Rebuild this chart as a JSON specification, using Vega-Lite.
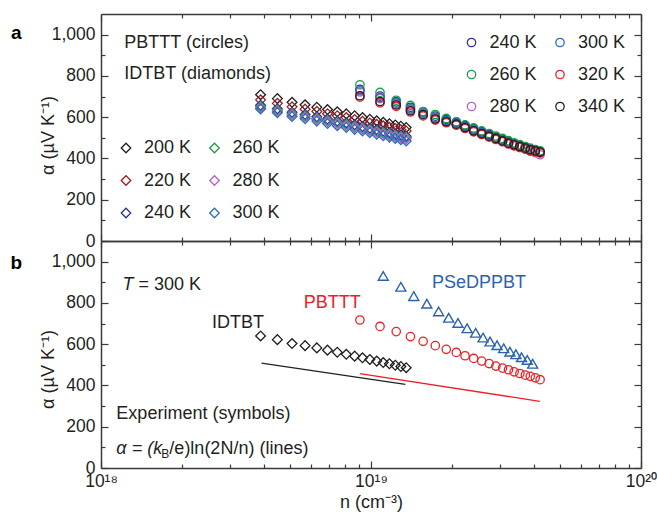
{
  "$schema": "https://vega.github.io/schema/vega-lite/v6.json",
  "padding": {"left": 10, "top": 13, "right": 5, "bottom": 4},
  "spacing": 0,
  "bounds": "flush",
  "config": {
    "font": "Liberation Sans",
    "view": {"stroke": null},
    "axis": {
      "grid": false,
      "domainColor": "#3a3a3a",
      "domainWidth": 1.5,
      "tickColor": "#3a3a3a",
      "tickWidth": 1.2,
      "labelColor": "#231f20",
      "labelFont": "Liberation Sans",
      "labelFontSize": 17.5,
      "titleColor": "#231f20",
      "titleFont": "Liberation Sans",
      "titleFontSize": 18,
      "titleFontWeight": "normal",
      "labelOverlap": false,
      "labelFlush": false,
      "minExtent": 0
    },
    "legend": {
      "labelFont": "Liberation Sans",
      "labelFontSize": 18,
      "labelColor": "#231f20",
      "padding": 0
    },
    "text": {"font": "Liberation Sans", "fontSize": 18}
  },
  "datasets": {
    "idtbt_a": [
      {"n": 3.9e18, "alpha": 709, "T": "200 K"}, {"n": 4.5e18, "alpha": 690, "T": "200 K"}, {"n": 5.1e18, "alpha": 672, "T": "200 K"}, {"n": 5.7e18, "alpha": 660, "T": "200 K"}, {"n": 6.3e18, "alpha": 648, "T": "200 K"}, {"n": 6.9e18, "alpha": 637, "T": "200 K"}, {"n": 7.5e18, "alpha": 626, "T": "200 K"}, {"n": 8.1e18, "alpha": 616, "T": "200 K"}, {"n": 8.7e18, "alpha": 607, "T": "200 K"}, {"n": 9.3e18, "alpha": 598, "T": "200 K"}, {"n": 9.9e18, "alpha": 590, "T": "200 K"}, {"n": 1.05e19, "alpha": 582, "T": "200 K"}, {"n": 1.11e19, "alpha": 575, "T": "200 K"}, {"n": 1.17e19, "alpha": 568, "T": "200 K"}, {"n": 1.23e19, "alpha": 562, "T": "200 K"}, {"n": 1.29e19, "alpha": 556, "T": "200 K"}, {"n": 1.35e19, "alpha": 550, "T": "200 K"},
      {"n": 3.9e18, "alpha": 684, "T": "220 K"}, {"n": 4.5e18, "alpha": 667, "T": "220 K"}, {"n": 5.1e18, "alpha": 650, "T": "220 K"}, {"n": 5.7e18, "alpha": 639, "T": "220 K"}, {"n": 6.3e18, "alpha": 628, "T": "220 K"}, {"n": 6.9e18, "alpha": 617, "T": "220 K"}, {"n": 7.5e18, "alpha": 607, "T": "220 K"}, {"n": 8.1e18, "alpha": 598, "T": "220 K"}, {"n": 8.7e18, "alpha": 589, "T": "220 K"}, {"n": 9.3e18, "alpha": 580, "T": "220 K"}, {"n": 9.9e18, "alpha": 572, "T": "220 K"}, {"n": 1.05e19, "alpha": 565, "T": "220 K"}, {"n": 1.11e19, "alpha": 558, "T": "220 K"}, {"n": 1.17e19, "alpha": 551, "T": "220 K"}, {"n": 1.23e19, "alpha": 545, "T": "220 K"}, {"n": 1.29e19, "alpha": 539, "T": "220 K"}, {"n": 1.35e19, "alpha": 533, "T": "220 K"},
      {"n": 3.9e18, "alpha": 658, "T": "240 K"}, {"n": 4.5e18, "alpha": 641, "T": "240 K"}, {"n": 5.1e18, "alpha": 624, "T": "240 K"}, {"n": 5.7e18, "alpha": 613, "T": "240 K"}, {"n": 6.3e18, "alpha": 602, "T": "240 K"}, {"n": 6.9e18, "alpha": 591, "T": "240 K"}, {"n": 7.5e18, "alpha": 581, "T": "240 K"}, {"n": 8.1e18, "alpha": 572, "T": "240 K"}, {"n": 8.7e18, "alpha": 563, "T": "240 K"}, {"n": 9.3e18, "alpha": 555, "T": "240 K"}, {"n": 9.9e18, "alpha": 547, "T": "240 K"}, {"n": 1.05e19, "alpha": 540, "T": "240 K"}, {"n": 1.11e19, "alpha": 533, "T": "240 K"}, {"n": 1.17e19, "alpha": 526, "T": "240 K"}, {"n": 1.23e19, "alpha": 520, "T": "240 K"}, {"n": 1.29e19, "alpha": 514, "T": "240 K"}, {"n": 1.35e19, "alpha": 508, "T": "240 K"},
      {"n": 3.9e18, "alpha": 650, "T": "260 K"}, {"n": 4.5e18, "alpha": 633, "T": "260 K"}, {"n": 5.1e18, "alpha": 616, "T": "260 K"}, {"n": 5.7e18, "alpha": 605, "T": "260 K"}, {"n": 6.3e18, "alpha": 594, "T": "260 K"}, {"n": 6.9e18, "alpha": 583, "T": "260 K"}, {"n": 7.5e18, "alpha": 573, "T": "260 K"}, {"n": 8.1e18, "alpha": 564, "T": "260 K"}, {"n": 8.7e18, "alpha": 555, "T": "260 K"}, {"n": 9.3e18, "alpha": 547, "T": "260 K"}, {"n": 9.9e18, "alpha": 539, "T": "260 K"}, {"n": 1.05e19, "alpha": 532, "T": "260 K"}, {"n": 1.11e19, "alpha": 525, "T": "260 K"}, {"n": 1.17e19, "alpha": 518, "T": "260 K"}, {"n": 1.23e19, "alpha": 512, "T": "260 K"}, {"n": 1.29e19, "alpha": 506, "T": "260 K"}, {"n": 1.35e19, "alpha": 501, "T": "260 K"},
      {"n": 3.9e18, "alpha": 645, "T": "280 K"}, {"n": 4.5e18, "alpha": 628, "T": "280 K"}, {"n": 5.1e18, "alpha": 611, "T": "280 K"}, {"n": 5.7e18, "alpha": 600, "T": "280 K"}, {"n": 6.3e18, "alpha": 589, "T": "280 K"}, {"n": 6.9e18, "alpha": 578, "T": "280 K"}, {"n": 7.5e18, "alpha": 568, "T": "280 K"}, {"n": 8.1e18, "alpha": 559, "T": "280 K"}, {"n": 8.7e18, "alpha": 550, "T": "280 K"}, {"n": 9.3e18, "alpha": 542, "T": "280 K"}, {"n": 9.9e18, "alpha": 534, "T": "280 K"}, {"n": 1.05e19, "alpha": 527, "T": "280 K"}, {"n": 1.11e19, "alpha": 520, "T": "280 K"}, {"n": 1.17e19, "alpha": 513, "T": "280 K"}, {"n": 1.23e19, "alpha": 507, "T": "280 K"}, {"n": 1.29e19, "alpha": 501, "T": "280 K"}, {"n": 1.35e19, "alpha": 496, "T": "280 K"},
      {"n": 3.9e18, "alpha": 640, "T": "300 K"}, {"n": 4.5e18, "alpha": 622, "T": "300 K"}, {"n": 5.1e18, "alpha": 603, "T": "300 K"}, {"n": 5.7e18, "alpha": 592, "T": "300 K"}, {"n": 6.3e18, "alpha": 581, "T": "300 K"}, {"n": 6.9e18, "alpha": 569, "T": "300 K"}, {"n": 7.5e18, "alpha": 559, "T": "300 K"}, {"n": 8.1e18, "alpha": 550, "T": "300 K"}, {"n": 8.7e18, "alpha": 541, "T": "300 K"}, {"n": 9.3e18, "alpha": 533, "T": "300 K"}, {"n": 9.9e18, "alpha": 525, "T": "300 K"}, {"n": 1.05e19, "alpha": 517, "T": "300 K"}, {"n": 1.11e19, "alpha": 510, "T": "300 K"}, {"n": 1.17e19, "alpha": 503, "T": "300 K"}, {"n": 1.23e19, "alpha": 497, "T": "300 K"}, {"n": 1.29e19, "alpha": 491, "T": "300 K"}, {"n": 1.35e19, "alpha": 485, "T": "300 K"}
    ],
    "pbttt_a": [
      {"n": 9.1e18, "alpha": 735, "T": "240 K"}, {"n": 1.08e19, "alpha": 702, "T": "240 K"}, {"n": 1.24e19, "alpha": 674, "T": "240 K"}, {"n": 1.40e19, "alpha": 648, "T": "240 K"}, {"n": 1.56e19, "alpha": 626, "T": "240 K"}, {"n": 1.73e19, "alpha": 605, "T": "240 K"}, {"n": 1.90e19, "alpha": 589, "T": "240 K"}, {"n": 2.07e19, "alpha": 575, "T": "240 K"}, {"n": 2.23e19, "alpha": 559, "T": "240 K"}, {"n": 2.40e19, "alpha": 543, "T": "240 K"}, {"n": 2.57e19, "alpha": 529, "T": "240 K"}, {"n": 2.74e19, "alpha": 516, "T": "240 K"}, {"n": 2.90e19, "alpha": 503, "T": "240 K"}, {"n": 3.07e19, "alpha": 491, "T": "240 K"}, {"n": 3.23e19, "alpha": 480, "T": "240 K"}, {"n": 3.39e19, "alpha": 471, "T": "240 K"}, {"n": 3.56e19, "alpha": 462, "T": "240 K"}, {"n": 3.73e19, "alpha": 454, "T": "240 K"}, {"n": 3.89e19, "alpha": 446, "T": "240 K"}, {"n": 4.06e19, "alpha": 440, "T": "240 K"}, {"n": 4.23e19, "alpha": 433, "T": "240 K"},
      {"n": 9.1e18, "alpha": 757, "T": "260 K"}, {"n": 1.08e19, "alpha": 720, "T": "260 K"}, {"n": 1.24e19, "alpha": 682, "T": "260 K"}, {"n": 1.40e19, "alpha": 657, "T": "260 K"}, {"n": 1.56e19, "alpha": 627, "T": "260 K"}, {"n": 1.73e19, "alpha": 613, "T": "260 K"}, {"n": 1.90e19, "alpha": 594, "T": "260 K"}, {"n": 2.07e19, "alpha": 578, "T": "260 K"}, {"n": 2.23e19, "alpha": 563, "T": "260 K"}, {"n": 2.40e19, "alpha": 548, "T": "260 K"}, {"n": 2.57e19, "alpha": 534, "T": "260 K"}, {"n": 2.74e19, "alpha": 521, "T": "260 K"}, {"n": 2.90e19, "alpha": 509, "T": "260 K"}, {"n": 3.07e19, "alpha": 497, "T": "260 K"}, {"n": 3.23e19, "alpha": 486, "T": "260 K"}, {"n": 3.39e19, "alpha": 476, "T": "260 K"}, {"n": 3.56e19, "alpha": 467, "T": "260 K"}, {"n": 3.73e19, "alpha": 458, "T": "260 K"}, {"n": 3.89e19, "alpha": 450, "T": "260 K"}, {"n": 4.06e19, "alpha": 443, "T": "260 K"}, {"n": 4.23e19, "alpha": 437, "T": "260 K"},
      {"n": 9.1e18, "alpha": 722, "T": "280 K"}, {"n": 1.08e19, "alpha": 690, "T": "280 K"}, {"n": 1.24e19, "alpha": 663, "T": "280 K"}, {"n": 1.40e19, "alpha": 637, "T": "280 K"}, {"n": 1.56e19, "alpha": 616, "T": "280 K"}, {"n": 1.73e19, "alpha": 595, "T": "280 K"}, {"n": 1.90e19, "alpha": 580, "T": "280 K"}, {"n": 2.07e19, "alpha": 566, "T": "280 K"}, {"n": 2.23e19, "alpha": 550, "T": "280 K"}, {"n": 2.40e19, "alpha": 534, "T": "280 K"}, {"n": 2.57e19, "alpha": 520, "T": "280 K"}, {"n": 2.74e19, "alpha": 507, "T": "280 K"}, {"n": 2.90e19, "alpha": 495, "T": "280 K"}, {"n": 3.07e19, "alpha": 483, "T": "280 K"}, {"n": 3.23e19, "alpha": 472, "T": "280 K"}, {"n": 3.39e19, "alpha": 462, "T": "280 K"}, {"n": 3.56e19, "alpha": 453, "T": "280 K"}, {"n": 3.73e19, "alpha": 444, "T": "280 K"}, {"n": 3.89e19, "alpha": 435, "T": "280 K"}, {"n": 4.06e19, "alpha": 428, "T": "280 K"}, {"n": 4.23e19, "alpha": 418, "T": "280 K"},
      {"n": 9.1e18, "alpha": 728, "T": "300 K"}, {"n": 1.08e19, "alpha": 695, "T": "300 K"}, {"n": 1.24e19, "alpha": 668, "T": "300 K"}, {"n": 1.40e19, "alpha": 641, "T": "300 K"}, {"n": 1.56e19, "alpha": 620, "T": "300 K"}, {"n": 1.73e19, "alpha": 599, "T": "300 K"}, {"n": 1.90e19, "alpha": 584, "T": "300 K"}, {"n": 2.07e19, "alpha": 571, "T": "300 K"}, {"n": 2.23e19, "alpha": 555, "T": "300 K"}, {"n": 2.40e19, "alpha": 539, "T": "300 K"}, {"n": 2.57e19, "alpha": 525, "T": "300 K"}, {"n": 2.74e19, "alpha": 512, "T": "300 K"}, {"n": 2.90e19, "alpha": 500, "T": "300 K"}, {"n": 3.07e19, "alpha": 489, "T": "300 K"}, {"n": 3.23e19, "alpha": 478, "T": "300 K"}, {"n": 3.39e19, "alpha": 469, "T": "300 K"}, {"n": 3.56e19, "alpha": 460, "T": "300 K"}, {"n": 3.73e19, "alpha": 452, "T": "300 K"}, {"n": 3.89e19, "alpha": 444, "T": "300 K"}, {"n": 4.06e19, "alpha": 438, "T": "300 K"}, {"n": 4.23e19, "alpha": 431, "T": "300 K"},
      {"n": 9.1e18, "alpha": 697, "T": "320 K"}, {"n": 1.08e19, "alpha": 669, "T": "320 K"}, {"n": 1.24e19, "alpha": 652, "T": "320 K"}, {"n": 1.40e19, "alpha": 625, "T": "320 K"}, {"n": 1.56e19, "alpha": 606, "T": "320 K"}, {"n": 1.73e19, "alpha": 586, "T": "320 K"}, {"n": 1.90e19, "alpha": 573, "T": "320 K"}, {"n": 2.07e19, "alpha": 561, "T": "320 K"}, {"n": 2.23e19, "alpha": 545, "T": "320 K"}, {"n": 2.40e19, "alpha": 529, "T": "320 K"}, {"n": 2.57e19, "alpha": 516, "T": "320 K"}, {"n": 2.74e19, "alpha": 503, "T": "320 K"}, {"n": 2.90e19, "alpha": 492, "T": "320 K"}, {"n": 3.07e19, "alpha": 481, "T": "320 K"}, {"n": 3.23e19, "alpha": 470, "T": "320 K"}, {"n": 3.39e19, "alpha": 461, "T": "320 K"}, {"n": 3.56e19, "alpha": 453, "T": "320 K"}, {"n": 3.73e19, "alpha": 445, "T": "320 K"}, {"n": 3.89e19, "alpha": 437, "T": "320 K"}, {"n": 4.06e19, "alpha": 432, "T": "320 K"}, {"n": 4.23e19, "alpha": 426, "T": "320 K"},
      {"n": 9.1e18, "alpha": 704, "T": "340 K"}, {"n": 1.08e19, "alpha": 676, "T": "340 K"}, {"n": 1.24e19, "alpha": 659, "T": "340 K"}, {"n": 1.40e19, "alpha": 631, "T": "340 K"}, {"n": 1.56e19, "alpha": 612, "T": "340 K"}, {"n": 1.73e19, "alpha": 591, "T": "340 K"}, {"n": 1.90e19, "alpha": 578, "T": "340 K"}, {"n": 2.07e19, "alpha": 566, "T": "340 K"}, {"n": 2.23e19, "alpha": 550, "T": "340 K"}, {"n": 2.40e19, "alpha": 534, "T": "340 K"}, {"n": 2.57e19, "alpha": 521, "T": "340 K"}, {"n": 2.74e19, "alpha": 508, "T": "340 K"}, {"n": 2.90e19, "alpha": 497, "T": "340 K"}, {"n": 3.07e19, "alpha": 485, "T": "340 K"}, {"n": 3.23e19, "alpha": 474, "T": "340 K"}, {"n": 3.39e19, "alpha": 466, "T": "340 K"}, {"n": 3.56e19, "alpha": 458, "T": "340 K"}, {"n": 3.73e19, "alpha": 450, "T": "340 K"}, {"n": 3.89e19, "alpha": 442, "T": "340 K"}, {"n": 4.06e19, "alpha": 437, "T": "340 K"}, {"n": 4.23e19, "alpha": 431, "T": "340 K"}
    ],
    "idtbt_b": [
      {"n": 3.9e18, "alpha": 640}, {"n": 4.5e18, "alpha": 622}, {"n": 5.1e18, "alpha": 603}, {"n": 5.7e18, "alpha": 593}, {"n": 6.3e18, "alpha": 582}, {"n": 6.9e18, "alpha": 571}, {"n": 7.5e18, "alpha": 561}, {"n": 8.1e18, "alpha": 551}, {"n": 8.7e18, "alpha": 542}, {"n": 9.3e18, "alpha": 534}, {"n": 9.9e18, "alpha": 526}, {"n": 1.05e19, "alpha": 518}, {"n": 1.11e19, "alpha": 511}, {"n": 1.17e19, "alpha": 505}, {"n": 1.23e19, "alpha": 498}, {"n": 1.29e19, "alpha": 492}, {"n": 1.35e19, "alpha": 486}
    ],
    "pbttt_b": [
      {"n": 9.1e18, "alpha": 717}, {"n": 1.08e19, "alpha": 686}, {"n": 1.24e19, "alpha": 661}, {"n": 1.40e19, "alpha": 637}, {"n": 1.56e19, "alpha": 614}, {"n": 1.73e19, "alpha": 593}, {"n": 1.90e19, "alpha": 575}, {"n": 2.07e19, "alpha": 560}, {"n": 2.23e19, "alpha": 544}, {"n": 2.40e19, "alpha": 531}, {"n": 2.57e19, "alpha": 518}, {"n": 2.74e19, "alpha": 506}, {"n": 2.90e19, "alpha": 494}, {"n": 3.07e19, "alpha": 484}, {"n": 3.23e19, "alpha": 476}, {"n": 3.39e19, "alpha": 466}, {"n": 3.56e19, "alpha": 458}, {"n": 3.73e19, "alpha": 450}, {"n": 3.89e19, "alpha": 444}, {"n": 4.06e19, "alpha": 437}, {"n": 4.23e19, "alpha": 428}
    ],
    "psedppbt_b": [
      {"n": 1.11e19, "alpha": 931}, {"n": 1.29e19, "alpha": 878}, {"n": 1.44e19, "alpha": 833}, {"n": 1.61e19, "alpha": 796}, {"n": 1.78e19, "alpha": 759}, {"n": 1.94e19, "alpha": 728}, {"n": 2.10e19, "alpha": 703}, {"n": 2.27e19, "alpha": 677}, {"n": 2.44e19, "alpha": 655}, {"n": 2.60e19, "alpha": 632}, {"n": 2.76e19, "alpha": 613}, {"n": 2.93e19, "alpha": 595}, {"n": 3.10e19, "alpha": 580}, {"n": 3.27e19, "alpha": 564}, {"n": 3.44e19, "alpha": 551}, {"n": 3.61e19, "alpha": 537}, {"n": 3.79e19, "alpha": 524}, {"n": 3.97e19, "alpha": 505}
    ],
    "theory_b": [
      {"n": 3.93e18, "alpha": 508, "material": "IDTBT"}, {"n": 1.34e19, "alpha": 405, "material": "IDTBT"},
      {"n": 9.09e18, "alpha": 457, "material": "PBTTT"}, {"n": 4.22e19, "alpha": 323, "material": "PBTTT"}
    ]
  },
  "vconcat": [
    {
      "width": 540,
      "height": 227,
      "layer": [
        {
          "data": {"name": "idtbt_a"},
          "mark": {"type": "point", "shape": "diamond", "filled": false, "size": 95, "strokeWidth": 1.3, "opacity": 1},
          "encoding": {
            "x": {"field": "n", "type": "quantitative", "scale": {"type": "log", "domain": [1e18, 1e20], "nice": false},
              "axis": {"orient": "bottom", "values": [1e18, 2e18, 3e18, 4e18, 5e18, 6e18, 7e18, 8e18, 9e18, 1e19, 2e19, 3e19, 4e19, 5e19, 6e19, 7e19, 8e19, 9e19, 1e20], "labels": false, "title": null,
                "tickSize": {"condition": {"test": "datum.value == 1e18 || datum.value == 1e19 || datum.value == 1e20", "value": -7}, "value": -4}}},
            "y": {"field": "alpha", "type": "quantitative", "scale": {"domain": [0, 1100], "nice": false},
              "axis": {"orient": "left", "values": [0, 100, 200, 300, 400, 500, 600, 700, 800, 900, 1000],
                "labelExpr": "datum.value % 200 == 0 ? format(datum.value, ',') : ''",
                "tickSize": {"condition": {"test": "datum.value % 200 == 0", "value": -7}, "value": -4},
                "labelPadding": 13, "title": "α (µV K⁻¹)", "titleX": -44, "titleY": 121}},
            "color": {"field": "T", "type": "nominal",
              "scale": {"domain": ["200 K", "220 K", "240 K", "260 K", "280 K", "300 K"], "range": ["#231f20", "#a01d22", "#2e3192", "#1c9e48", "#b264c0", "#2b6cc4"]},
              "legend": {"orient": "none", "legendX": 16, "legendY": 125, "columns": 2, "title": null, "symbolType": "diamond", "symbolSize": 90, "symbolStrokeWidth": 1.3, "labelOffset": 9, "rowPadding": 14.5, "columnPadding": 13.5, "labelBaseline": "middle"}}
          }
        },
        {
          "data": {"name": "pbttt_a"},
          "mark": {"type": "point", "shape": "circle", "filled": false, "size": 70, "strokeWidth": 1.3, "opacity": 1},
          "encoding": {
            "x": {"field": "n", "type": "quantitative", "axis": null},
            "y": {"field": "alpha", "type": "quantitative", "axis": null},
            "color": {"field": "T", "type": "nominal",
              "scale": {"domain": ["240 K", "260 K", "280 K", "300 K", "320 K", "340 K"], "range": ["#2e3192", "#1c9e48", "#b264c0", "#2b6cc4", "#ec2027", "#231f20"]},
              "legend": {"orient": "none", "legendX": 361.5, "legendY": 19.5, "columns": 2, "title": null, "symbolType": "circle", "symbolSize": 70, "symbolStrokeWidth": 1.3, "labelOffset": 9, "rowPadding": 14, "columnPadding": 13.5, "labelBaseline": "middle"}}
          }
        },
        {
          "data": {"name": "idtbt_a"},
          "mark": {"type": "point", "opacity": 0},
          "encoding": {
            "x": {"field": "n", "type": "quantitative",
              "axis": {"orient": "top", "values": [1e18, 2e18, 3e18, 4e18, 5e18, 6e18, 7e18, 8e18, 9e18, 1e19, 2e19, 3e19, 4e19, 5e19, 6e19, 7e19, 8e19, 9e19, 1e20], "labels": false, "title": null,
                "tickSize": {"condition": {"test": "datum.value == 1e18 || datum.value == 1e19 || datum.value == 1e20", "value": -7}, "value": -4}}},
            "y": {"field": "alpha", "type": "quantitative",
              "axis": {"orient": "right", "values": [0, 100, 200, 300, 400, 500, 600, 700, 800, 900, 1000], "labels": false, "title": null,
                "tickSize": {"condition": {"test": "datum.value % 200 == 0", "value": -7}, "value": -4}}}
          }
        },
        {
          "data": {"values": [{}]},
          "mark": {"type": "text", "text": "a", "align": "center", "baseline": "middle", "fontSize": 19, "fontWeight": "bold", "color": "#000000"},
          "encoding": {"x": {"datum": 4.86e17, "type": "quantitative", "axis": null}, "y": {"datum": 1008, "type": "quantitative", "axis": null}}
        },
        {
          "data": {"values": [{}]},
          "mark": {"type": "text", "text": "PBTTT (circles)", "align": "left", "baseline": "middle", "color": "#231f20"},
          "encoding": {"x": {"datum": 1.22e18, "type": "quantitative", "axis": null}, "y": {"datum": 961, "type": "quantitative", "axis": null}}
        },
        {
          "data": {"values": [{}]},
          "mark": {"type": "text", "text": "IDTBT (diamonds)", "align": "left", "baseline": "middle", "color": "#231f20"},
          "encoding": {"x": {"datum": 1.22e18, "type": "quantitative", "axis": null}, "y": {"datum": 811, "type": "quantitative", "axis": null}}
        }
      ],
      "resolve": {"scale": {"color": "independent"}, "axis": {"x": "independent", "y": "independent"}}
    },
    {
      "width": 540,
      "height": 227,
      "layer": [
        {
          "data": {"name": "theory_b"},
          "mark": {"type": "line", "strokeWidth": 1.3},
          "encoding": {
            "x": {"field": "n", "type": "quantitative", "scale": {"type": "log", "domain": [1e18, 1e20], "nice": false},
              "axis": {"orient": "bottom", "values": [1e18, 2e18, 3e18, 4e18, 5e18, 6e18, 7e18, 8e18, 9e18, 1e19, 2e19, 3e19, 4e19, 5e19, 6e19, 7e19, 8e19, 9e19, 1e20],
                "labelExpr": "datum.value == 1e18 ? '10¹⁸' : datum.value == 1e19 ? '10¹⁹' : datum.value == 1e20 ? '10²⁰' : ''",
                "labelPadding": 11.5, "title": "n (cm⁻³)", "titlePadding": 0,
                "tickSize": {"condition": {"test": "datum.value == 1e18 || datum.value == 1e19 || datum.value == 1e20", "value": -7}, "value": -4}}},
            "y": {"field": "alpha", "type": "quantitative", "scale": {"domain": [0, 1100], "nice": false},
              "axis": {"orient": "left", "values": [0, 100, 200, 300, 400, 500, 600, 700, 800, 900, 1000],
                "labelExpr": "datum.value % 200 == 0 ? format(datum.value, ',') : ''",
                "tickSize": {"condition": {"test": "datum.value % 200 == 0", "value": -7}, "value": -4},
                "labelPadding": 13, "title": "α (µV K⁻¹)", "titleX": -44, "titleY": 128}},
            "color": {"field": "material", "type": "nominal", "scale": {"domain": ["IDTBT", "PBTTT"], "range": ["#231f20", "#ec2027"]}, "legend": null}
          }
        },
        {
          "data": {"name": "idtbt_b"},
          "mark": {"type": "point", "shape": "diamond", "filled": false, "size": 95, "strokeWidth": 1.3, "color": "#231f20", "opacity": 1},
          "encoding": {
            "x": {"field": "n", "type": "quantitative", "axis": null},
            "y": {"field": "alpha", "type": "quantitative", "axis": null}
          }
        },
        {
          "data": {"name": "pbttt_b"},
          "mark": {"type": "point", "shape": "circle", "filled": false, "size": 70, "strokeWidth": 1.3, "color": "#ec2027", "opacity": 1},
          "encoding": {
            "x": {"field": "n", "type": "quantitative", "axis": null},
            "y": {"field": "alpha", "type": "quantitative", "axis": null}
          }
        },
        {
          "data": {"name": "psedppbt_b"},
          "mark": {"type": "point", "shape": "triangle-up", "filled": false, "size": 100, "strokeWidth": 1.4, "color": "#2b62b0", "opacity": 1},
          "encoding": {
            "x": {"field": "n", "type": "quantitative", "axis": null},
            "y": {"field": "alpha", "type": "quantitative", "axis": null}
          }
        },
        {
          "data": {"name": "idtbt_b"},
          "mark": {"type": "point", "opacity": 0},
          "encoding": {
            "x": {"field": "n", "type": "quantitative",
              "axis": {"orient": "top", "values": [1e18, 2e18, 3e18, 4e18, 5e18, 6e18, 7e18, 8e18, 9e18, 1e19, 2e19, 3e19, 4e19, 5e19, 6e19, 7e19, 8e19, 9e19, 1e20], "labels": false, "title": null,
                "tickSize": {"condition": {"test": "datum.value == 1e18 || datum.value == 1e19 || datum.value == 1e20", "value": -7}, "value": -4}}},
            "y": {"field": "alpha", "type": "quantitative",
              "axis": {"orient": "right", "values": [0, 100, 200, 300, 400, 500, 600, 700, 800, 900, 1000], "labels": false, "title": null,
                "tickSize": {"condition": {"test": "datum.value % 200 == 0", "value": -7}, "value": -4}}}
          }
        },
        {
          "data": {"values": [{}]},
          "mark": {"type": "text", "text": "b", "align": "center", "baseline": "middle", "fontSize": 19, "fontWeight": "bold", "color": "#000000"},
          "encoding": {"x": {"datum": 4.86e17, "type": "quantitative", "axis": null}, "y": {"datum": 994, "type": "quantitative", "axis": null}}
        },
        {
          "data": {"values": [{}]},
          "mark": {"type": "text", "text": "T", "fontStyle": "italic", "align": "left", "baseline": "middle", "color": "#231f20"},
          "encoding": {"x": {"datum": 1.2e18, "type": "quantitative", "axis": null}, "y": {"datum": 888, "type": "quantitative", "axis": null}}
        },
        {
          "data": {"values": [{}]},
          "mark": {"type": "text", "text": "= 300 K", "align": "left", "baseline": "middle", "dx": 16, "color": "#231f20"},
          "encoding": {"x": {"datum": 1.2e18, "type": "quantitative", "axis": null}, "y": {"datum": 888, "type": "quantitative", "axis": null}}
        },
        {
          "data": {"values": [{}]},
          "mark": {"type": "text", "text": "IDTBT", "align": "center", "baseline": "middle", "color": "#231f20"},
          "encoding": {"x": {"datum": 3.22e18, "type": "quantitative", "axis": null}, "y": {"datum": 704, "type": "quantitative", "axis": null}}
        },
        {
          "data": {"values": [{}]},
          "mark": {"type": "text", "text": "PBTTT", "align": "center", "baseline": "middle", "color": "#ec2027"},
          "encoding": {"x": {"datum": 7.19e18, "type": "quantitative", "axis": null}, "y": {"datum": 801, "type": "quantitative", "axis": null}}
        },
        {
          "data": {"values": [{}]},
          "mark": {"type": "text", "text": "PSeDPPBT", "align": "center", "baseline": "middle", "color": "#2b62b0"},
          "encoding": {"x": {"datum": 2.51e19, "type": "quantitative", "axis": null}, "y": {"datum": 897, "type": "quantitative", "axis": null}}
        },
        {
          "data": {"values": [{}]},
          "mark": {"type": "text", "text": "Experiment (symbols)", "align": "left", "baseline": "middle", "color": "#231f20"},
          "encoding": {"x": {"datum": 1.14e18, "type": "quantitative", "axis": null}, "y": {"datum": 264, "type": "quantitative", "axis": null}}
        },
        {
          "data": {"values": [{}]},
          "mark": {"type": "text", "text": "α = (k", "align": "left", "baseline": "middle", "fontStyle": "italic", "color": "#231f20"},
          "encoding": {"x": {"datum": 1.14e18, "type": "quantitative", "axis": null}, "y": {"datum": 92, "type": "quantitative", "axis": null}}
        },
        {
          "data": {"values": [{}]},
          "mark": {"type": "text", "text": "B", "align": "left", "baseline": "middle", "fontSize": 12, "dx": 45, "dy": 5, "color": "#231f20"},
          "encoding": {"x": {"datum": 1.14e18, "type": "quantitative", "axis": null}, "y": {"datum": 92, "type": "quantitative", "axis": null}}
        },
        {
          "data": {"values": [{}]},
          "mark": {"type": "text", "text": "/e)ln(2N/n) (lines)", "align": "left", "baseline": "middle", "dx": 53, "color": "#231f20"},
          "encoding": {"x": {"datum": 1.14e18, "type": "quantitative", "axis": null}, "y": {"datum": 92, "type": "quantitative", "axis": null}}
        }
      ],
      "resolve": {"axis": {"x": "independent", "y": "independent"}}
    }
  ]
}
